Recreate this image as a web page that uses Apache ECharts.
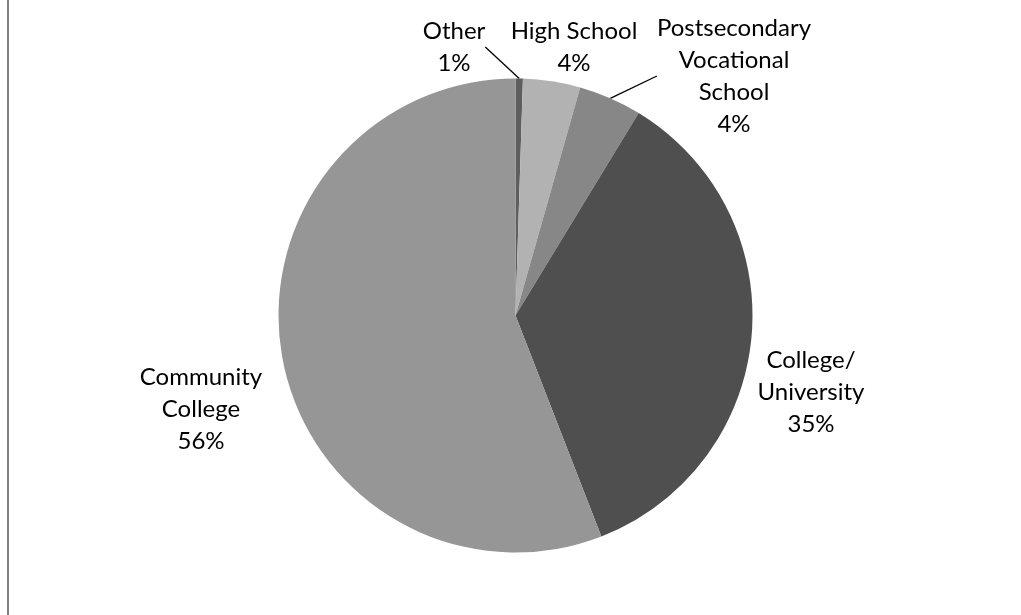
<!DOCTYPE html>
<html>
<head>
<meta charset="utf-8">
<script src="https://cdn.jsdelivr.net/npm/echarts@6/dist/echarts.min.js"></script>
<style>html,body{margin:0;padding:0;background:#fff;}#chart{width:1021px;height:615px;}</style>
</head>
<body>
<div id="chart"></div>
<script>
const categories = ['Other', 'High School', 'Postsecondary\nVocational\nSchool', 'College/\nUniversity', 'Community\nCollege'];
const values = [0.5, 3.9, 4.3, 35.4, 55.9];
const colors = ['#5e5e5e', '#b2b2b2', '#878787', '#4f4f4f', '#969696'];
const showLeader = [true, false, true, false, false];
const labelPos = [[454, 47], [574, 47], [734, 76], [811, 392], [201, 409]];

const chart = echarts.init(document.getElementById('chart'), null, {renderer: 'canvas'});
const option = {
  backgroundColor: '#fff',
  animation: false,
  graphic: [{type: 'rect', shape: {x: 7, y: 0, width: 2, height: 615}, style: {fill: '#808080'}}],
  series: [{
    type: 'pie',
    center: [515.5, 315.5],
    radius: 237,
    startAngle: 90,
    clockwise: true,
    avoidLabelOverlap: false,
    itemStyle: {borderWidth: 0},
    label: {
      show: true,
      color: '#000',
      fontFamily: 'Lato, "Open Sans", sans-serif',
      fontSize: 24,
      lineHeight: 32,
      align: 'center',
      formatter: p => p.name + '\n' + Math.round(p.percent) + '%'
    },
    labelLine: {show: true, lineStyle: {color: '#000', width: 1.3}, length: 0, length2: 0},
    labelLayout: function (params) {
      const pos = labelPos[params.dataIndex];
      return {x: pos[0], y: pos[1], align: 'center', verticalAlign: 'middle'};
    },
    data: categories.map((c, i) => ({
      name: c,
      value: values[i],
      itemStyle: {color: colors[i]},
      labelLine: {show: showLeader[i]}
    }))
  }]
};
chart.setOption(option);
</script>
</body>
</html>
